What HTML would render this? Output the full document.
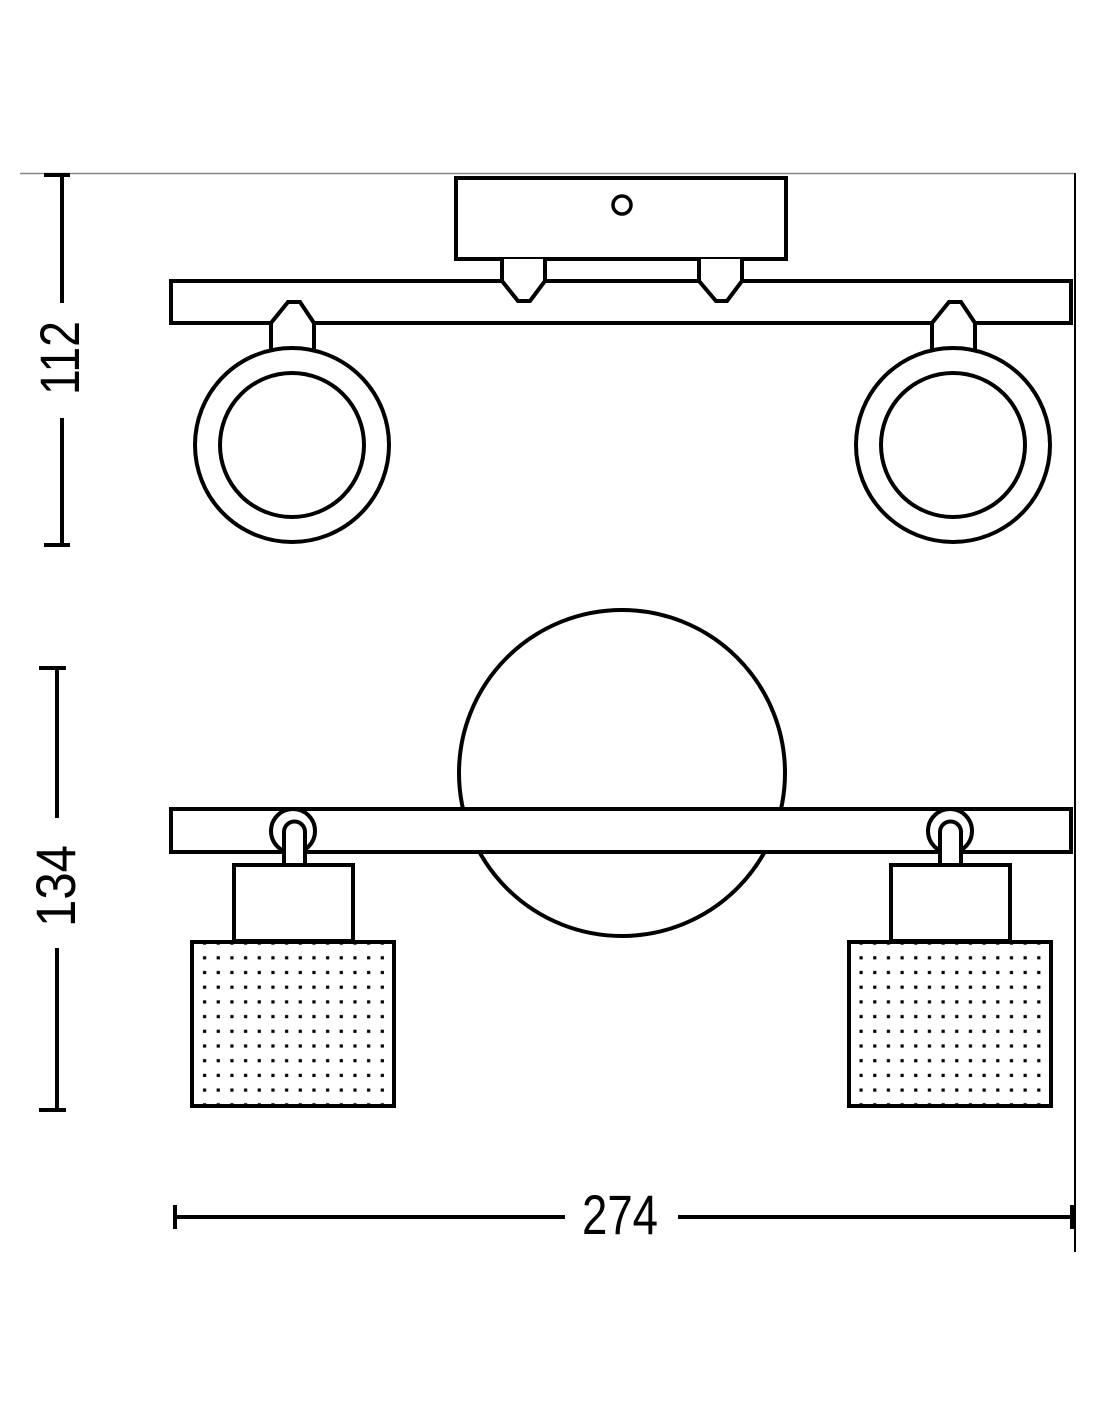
<!DOCTYPE html>
<html><head><style>html,body{margin:0;padding:0;background:#fff}svg{display:block}</style></head>
<body>
<svg width="1100" height="1422" viewBox="0 0 1100 1422" xmlns="http://www.w3.org/2000/svg">
<defs>
<pattern id="dl" patternUnits="userSpaceOnUse" x="198.5" y="951" width="13.67" height="14.7"><rect x="4.5" y="5.2" width="3.2" height="3.2" fill="#000"/></pattern>
<pattern id="dr" patternUnits="userSpaceOnUse" x="855" y="951" width="13.67" height="14.7"><rect x="4.5" y="5.2" width="3.2" height="3.2" fill="#000"/></pattern>
</defs>
<g fill="none" stroke="#000" stroke-width="4">
<!-- frame lines -->
<line x1="20" y1="173.5" x2="1075" y2="173.5" stroke="#888" stroke-width="1.5"/>
<line x1="1075" y1="173" x2="1075" y2="1252" stroke-width="2"/>
<!-- top view -->
<rect x="456" y="178" width="330" height="81" fill="#fff"/>
<circle cx="622" cy="205" r="9" stroke-width="3.5"/>
<rect x="171" y="281" width="900" height="42" fill="#fff"/>
<path d="M502 259 V281 L518 301 H530 L545 281 V259" fill="#fff"/>
<path d="M699 259 V281 L716 301 H727 L742 281 V259" fill="#fff"/>
<path d="M271 349 V323 L288 302 H300 L314 323 V349" fill="#fff"/>
<path d="M932 349 V323 L949 302 H961 L975 323 V349" fill="#fff"/>
<circle cx="292" cy="445" r="97" fill="#fff"/>
<circle cx="292" cy="445" r="72"/>
<circle cx="953" cy="445" r="97" fill="#fff"/>
<circle cx="953" cy="445" r="72"/>
<!-- bottom view -->
<circle cx="622" cy="773" r="163"/>
<rect x="171" y="809" width="900" height="43" fill="#fff"/>
<circle cx="293" cy="831" r="22"/>
<path d="M284 864 V832 A10.5 10.5 0 0 1 305 832 V864" fill="#fff"/>
<circle cx="950" cy="831" r="22"/>
<path d="M940 864 V832 A10.5 10.5 0 0 1 961 832 V864" fill="#fff"/>
<rect x="234" y="865" width="119" height="76" fill="#fff"/>
<rect x="891" y="865" width="119" height="76" fill="#fff"/>
<rect x="192" y="942" width="202" height="164" fill="url(#dl)"/>
<rect x="849" y="942" width="202" height="164" fill="url(#dr)"/>
<!-- dims -->
<line x1="62" y1="175" x2="62" y2="303"/>
<line x1="62" y1="418" x2="62" y2="545"/>
<line x1="44" y1="175" x2="70" y2="175"/>
<line x1="44" y1="545" x2="70" y2="545"/>
<line x1="57" y1="668" x2="57" y2="818"/>
<line x1="57" y1="948" x2="57" y2="1110"/>
<line x1="39" y1="668" x2="66" y2="668"/>
<line x1="39" y1="1110" x2="66" y2="1110"/>
<line x1="175" y1="1217" x2="565" y2="1217"/>
<line x1="678" y1="1217" x2="1074" y2="1217"/>
<line x1="175" y1="1205" x2="175" y2="1229"/>
<line x1="1072" y1="1205" x2="1072" y2="1229"/>
</g>
<g font-family="Liberation Sans, sans-serif" font-size="56" fill="#000" text-anchor="middle">
<text x="620" y="1234" textLength="76" lengthAdjust="spacingAndGlyphs">274</text>
<text transform="translate(79,358) rotate(-90)" textLength="74" lengthAdjust="spacingAndGlyphs">112</text>
<text transform="translate(75,886) rotate(-90)" textLength="82" lengthAdjust="spacingAndGlyphs">134</text>
</g>
</svg>
</body></html>
